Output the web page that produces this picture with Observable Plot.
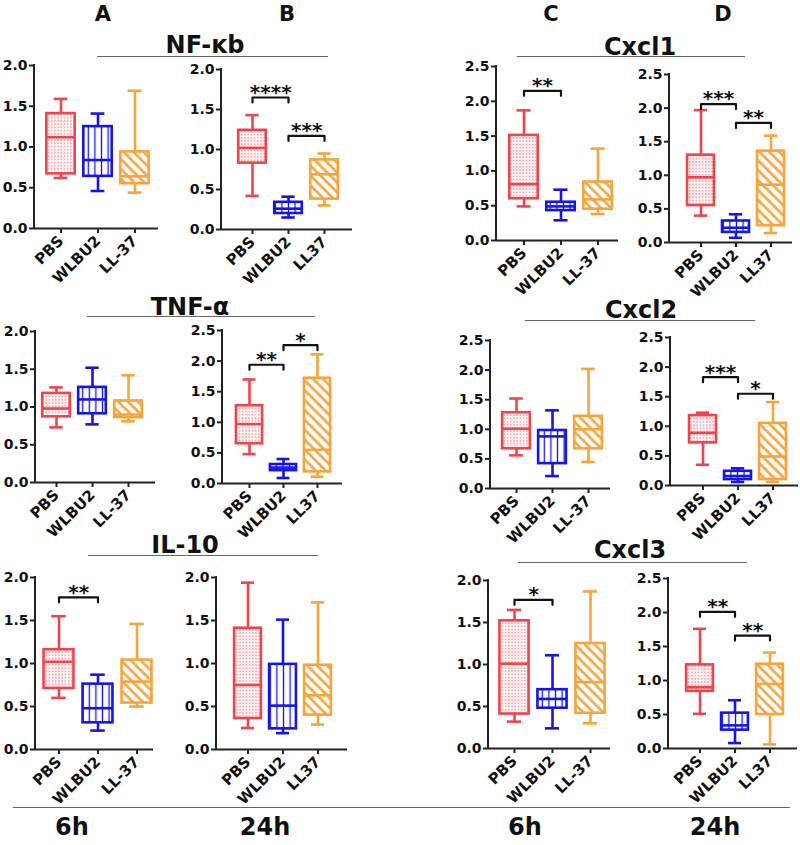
<!DOCTYPE html>
<html><head><meta charset="utf-8">
<script src="https://cdn.jsdelivr.net/npm/d3@7"></script>
<script src="https://cdn.jsdelivr.net/npm/@observablehq/plot@0.6"></script>
<style>
body{margin:0;background:#fff;}
#fig{position:relative;width:800px;height:845px;overflow:hidden;font-family:"DejaVu Sans",sans-serif;color:#111;}
.t{position:absolute;font-weight:bold;white-space:nowrap;transform:translateX(-50%);line-height:1;}
.hl{position:absolute;height:0;border-top:1px solid #666;}
.p{position:absolute;}
svg.p g[aria-label="y-axis tick label"] text{font-size:14px;font-weight:bold;}
svg.p g[aria-label="x-axis tick label"] text{font-size:15px;font-weight:bold;}
svg.p g[aria-label="stars"] text{font-size:20px;font-weight:bold;}
</style></head>
<body><div id="fig"></div>
<script>
// ---------- data ----------
const groups6h = ["PBS", "WLBU2", "LL-37"];
const groups24h = ["PBS", "WLBU2", "LL37"];
// each row: [min, q1, median, q3, max] for PBS, WLBU2, LL-37
const nfkb6h  = [[0.62,0.67,1.12,1.41,1.59],[0.46,0.64,0.84,1.25,1.41],[0.44,0.55,0.64,0.94,1.69]];
const nfkb24h = [[0.42,0.83,1.02,1.24,1.43],[0.15,0.20,0.26,0.34,0.41],[0.30,0.38,0.69,0.87,0.95]];
const tnf6h   = [[0.73,0.87,0.98,1.18,1.26],[0.77,0.91,1.10,1.26,1.52],[0.81,0.86,0.90,1.08,1.42]];
const tnf24h  = [[0.48,0.65,0.97,1.27,1.70],[0.09,0.21,0.26,0.31,0.40],[0.11,0.19,0.55,1.72,2.11]];
const il10_6h = [[0.60,0.71,1.02,1.16,1.55],[0.22,0.31,0.48,0.76,0.87],[0.50,0.54,0.79,1.04,1.46]];
const il10_24h= [[0.25,0.36,0.75,1.41,1.94],[0.19,0.24,0.51,0.99,1.51],[0.29,0.40,0.63,0.98,1.71]];
const cxcl1_6h  = [[0.49,0.60,0.81,1.51,1.87],[0.29,0.43,0.49,0.55,0.73],[0.38,0.45,0.59,0.84,1.32]];
const cxcl1_24h = [[0.40,0.55,0.97,1.30,1.97],[0.07,0.15,0.22,0.32,0.42],[0.14,0.25,0.86,1.36,1.59]];
const cxcl2_6h  = [[0.56,0.67,1.01,1.28,1.52],[0.21,0.42,0.88,0.98,1.32],[0.45,0.67,1.00,1.22,2.02]];
const cxcl2_24h = [[0.35,0.72,0.89,1.18,1.23],[0.06,0.10,0.16,0.24,0.29],[0.06,0.10,0.49,1.05,1.41]];
const cxcl3_6h  = [[0.32,0.41,1.01,1.52,1.65],[0.24,0.48,0.59,0.70,1.11],[0.30,0.42,0.79,1.25,1.87]];
const cxcl3_24h = [[0.51,0.84,0.90,1.23,1.76],[0.08,0.27,0.34,0.52,0.71],[0.06,0.50,0.95,1.24,1.41]];
// significance brackets: [fromGroup, toGroup, yLevel, label]
const sigNfkb24h  = [[0,1,1.65,"****"],[1,2,1.17,"***"]];
const sigTnf24h   = [[0,1,1.94,"**"],[1,2,2.26,"*"]];
const sigIl10_6h  = [[0,1,1.77,"**"]];
const sigCxcl1_6h = [[0,1,2.15,"**"]];
const sigCxcl1_24h= [[0,1,2.06,"***"],[1,2,1.78,"**"]];
const sigCxcl2_24h= [[0,1,1.83,"***"],[1,2,1.55,"*"]];
const sigCxcl3_6h = [[0,1,1.77,"*"]];
const sigCxcl3_24h= [[0,1,2.01,"**"],[1,2,1.66,"**"]];
const yTicks20 = [0, 0.5, 1.0, 1.5, 2.0];
const yTicks25 = [0, 0.5, 1.0, 1.5, 2.0, 2.5];

// ---------- styles ----------
const colors = ["#f0444c", "#1515e8", "#f8a43c"];
const patternIds = ["patDots", "patVert", "patDiag"];

const fig = document.getElementById("fig");
fig.insertAdjacentHTML("beforeend", `
<svg width="0" height="0" style="position:absolute;left:0;top:0">
 <defs>
  <pattern id="patDots" patternUnits="userSpaceOnUse" width="3.2" height="3.2">
   <rect width="3.2" height="3.2" fill="#fff3f3"/>
   <circle cx="1.6" cy="1.6" r="0.75" fill="#f28a90"/>
  </pattern>
  <pattern id="patVert" patternUnits="userSpaceOnUse" width="6.6" height="10">
   <rect width="6.6" height="10" fill="#ffffff"/>
   <line x1="3.3" y1="0" x2="3.3" y2="10" stroke="#1515e8" stroke-width="1.3"/>
  </pattern>
  <pattern id="patDiag" patternUnits="userSpaceOnUse" width="7" height="10" patternTransform="rotate(-45)">
   <rect width="7" height="10" fill="#ffffff"/>
   <line x1="3.5" y1="0" x2="3.5" y2="10" stroke="#f8a43c" stroke-width="2.6"/>
  </pattern>
 </defs>
</svg>`);

function addText(txt, x, yTop, size) {
  const d = document.createElement("div");
  d.className = "t"; d.textContent = txt;
  d.style.left = x + "px"; d.style.top = yTop + "px"; d.style.fontSize = size + "px";
  fig.appendChild(d);
}
function addLine(x1, x2, y) {
  const d = document.createElement("div");
  d.className = "hl"; d.style.left = x1 + "px"; d.style.width = (x2 - x1) + "px"; d.style.top = y + "px";
  fig.appendChild(d);
}

function drawPanel(L, data, sig, groups, ticks) {
  const ymax = ticks[ticks.length - 1];
  const mL = 48, mT = 16, mB = 62, mR = 8;
  const innerW = L.right - L.ax, innerH = L.y0 - L.top;
  const width = mL + innerW + mR, height = mT + innerH + mB;
  const x0 = mL + (L.c1 - L.ax) - L.step / 2;
  const rows = groups.map((g, i) => ({g, min: data[i][0], q1: data[i][1], med: data[i][2], q3: data[i][3], max: data[i][4],
    fill: `url(#${patternIds[i]})`, col: colors[i]}));
  const bi = L.step * 0.115, ci = L.step * 0.31;
  const arm = 5 * ymax / innerH;
  const br = sig.flatMap(([a, b, y], k) => [
    {k, g: groups[a], y: y - arm}, {k, g: groups[a], y}, {k, g: groups[b], y}, {k, g: groups[b], y: y - arm}]);
  const sw = 2.6;
  const chart = Plot.plot({
    width, height, marginLeft: mL, marginRight: mR, marginTop: mT, marginBottom: mB,
    style: {fontFamily: "'DejaVu Sans', sans-serif", background: "transparent", color: "#111", overflow: "visible"},
    x: {type: "band", domain: groups, range: [x0, x0 + 3 * L.step], padding: 0, axis: null, label: null},
    y: {domain: [0, ymax], range: [mT + innerH, mT], axis: null, label: null},
    color: {type: "identity"},
    marks: [
      Plot.ruleX(rows, {x: "g", y1: "q3", y2: "max", stroke: "col", strokeWidth: sw}),
      Plot.ruleX(rows, {x: "g", y1: "min", y2: "q1", stroke: "col", strokeWidth: sw}),
      Plot.tickY(rows, {x: "g", y: "max", stroke: "col", strokeWidth: sw, insetLeft: ci, insetRight: ci}),
      Plot.tickY(rows, {x: "g", y: "min", stroke: "col", strokeWidth: sw, insetLeft: ci, insetRight: ci}),
      Plot.barY(rows, {x: "g", y1: "q1", y2: "q3", fill: "fill", stroke: "col", strokeWidth: sw, insetLeft: bi, insetRight: bi}),
      Plot.tickY(rows, {x: "g", y: "med", stroke: "col", strokeWidth: sw, insetLeft: bi, insetRight: bi}),
      Plot.line(br, {x: "g", y: "y", z: "k", stroke: "#111", strokeWidth: 2.2}),
      Plot.text(sig, {x: d => groups[d[0]], y: d => d[2], text: d => d[3], dx: L.step / 2, dy: -5,
        fontSize: 20, fontWeight: "bold", fill: "#111", ariaLabel: "stars"}),
      Plot.ruleY([0], {stroke: "#222", strokeWidth: 2}),
      (index, scales, values, dims) => {
        const ln = d3.create("svg:line")
          .attr("x1", dims.marginLeft).attr("x2", dims.marginLeft)
          .attr("y1", scales.y(0) + 1).attr("y2", scales.y(ymax) - 1)
          .attr("stroke", "#222").attr("stroke-width", 2);
        return ln.node();
      },
      Plot.axisY({ticks, tickFormat: d3.format(".1f"), tickSize: 5, tickPadding: 2, fontSize: 14,
        fontWeight: "bold", strokeWidth: 2, stroke: "#222", fill: "#111", label: null}),
      Plot.axisX({tickSize: 5, tickPadding: 5, tickRotate: -45, fontSize: 15, fontWeight: "bold",
        strokeWidth: 2, stroke: "#222", fill: "#111", label: null})
    ]
  });
  chart.classList.add("p");
  chart.style.left = (L.ax - mL) + "px";
  chart.style.top = (L.top - mT) + "px";
  fig.appendChild(chart);
}

// ---------- layout ----------
const layout = {
  nf6:   {ax: 34,  top: 65,  y0: 228, right: 158, c1: 60,  step: 37.5},
  nf24:  {ax: 221, top: 69,  y0: 229, right: 352, c1: 251, step: 36.5},
  c1_6:  {ax: 496, top: 66,  y0: 240, right: 618, c1: 523, step: 37},
  c1_24: {ax: 669, top: 74,  y0: 242, right: 792, c1: 700, step: 35},
  tnf6:  {ax: 35,  top: 331, y0: 482, right: 155, c1: 55,  step: 36.5},
  tnf24: {ax: 222, top: 330, y0: 483, right: 342, c1: 249, step: 34},
  c2_6:  {ax: 490, top: 340, y0: 488, right: 610, c1: 516, step: 36},
  c2_24: {ax: 670, top: 337, y0: 485, right: 798, c1: 702, step: 35},
  il6:   {ax: 35,  top: 577, y0: 749, right: 153, c1: 58,  step: 39.5},
  il24:  {ax: 216, top: 577, y0: 749, right: 347, c1: 247, step: 35.5},
  c3_6:  {ax: 488, top: 580, y0: 748, right: 610, c1: 513, step: 38.5},
  c3_24: {ax: 668, top: 578, y0: 748, right: 797, c1: 699, step: 35.5}
};

drawPanel(layout.nf6, nfkb6h, [], groups6h, yTicks20);
drawPanel(layout.nf24, nfkb24h, sigNfkb24h, groups24h, yTicks20);
drawPanel(layout.c1_6, cxcl1_6h, sigCxcl1_6h, groups6h, yTicks25);
drawPanel(layout.c1_24, cxcl1_24h, sigCxcl1_24h, groups24h, yTicks25);
drawPanel(layout.tnf6, tnf6h, [], groups6h, yTicks20);
drawPanel(layout.tnf24, tnf24h, sigTnf24h, groups24h, yTicks25);
drawPanel(layout.c2_6, cxcl2_6h, [], groups6h, yTicks25);
drawPanel(layout.c2_24, cxcl2_24h, sigCxcl2_24h, groups24h, yTicks25);
drawPanel(layout.il6, il10_6h, sigIl10_6h, groups6h, yTicks20);
drawPanel(layout.il24, il10_24h, [], groups24h, yTicks20);
drawPanel(layout.c3_6, cxcl3_6h, sigCxcl3_6h, groups6h, yTicks20);
drawPanel(layout.c3_24, cxcl3_24h, sigCxcl3_24h, groups24h, yTicks25);

// ---------- headings ----------
addText("A", 103, 4, 21); addText("B", 287, 4, 21); addText("C", 551, 4, 21); addText("D", 723, 4, 21);
addText("NF-ĸb", 205, 33, 24); addLine(97, 328, 56);
addText("Cxcl1", 640, 35, 24); addLine(517, 745, 56);
addText("TNF-α", 190, 295, 24); addLine(87, 315, 316);
addText("Cxcl2", 641, 298, 24); addLine(525, 755, 320);
addText("IL-10", 185, 533, 24); addLine(88, 318, 555);
addText("Cxcl3", 630, 538, 24); addLine(518, 747, 562);
addLine(13, 790, 807);
addText("6h", 72, 815, 24); addText("24h", 265, 815, 24);
addText("6h", 525, 815, 24); addText("24h", 715, 815, 24);
</script></body></html>
